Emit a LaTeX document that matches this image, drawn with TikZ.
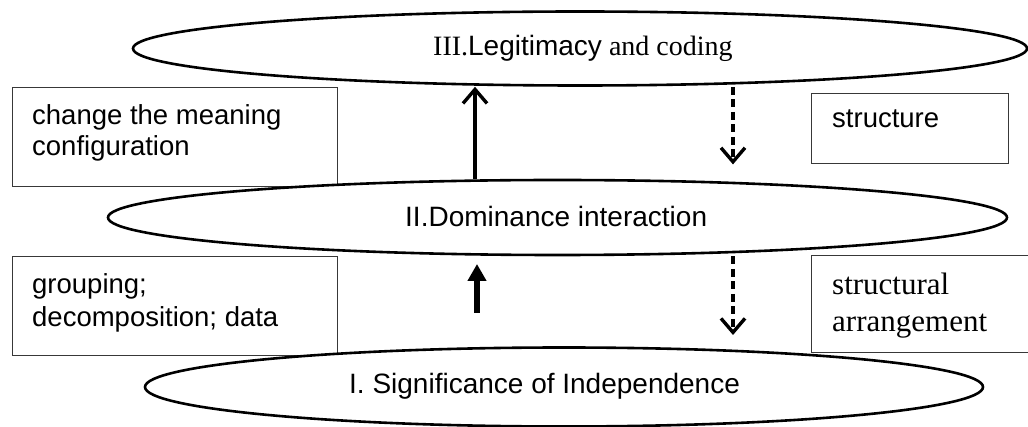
\documentclass[tikz,border=0pt]{standalone}
\usepackage{fontspec}
\setmainfont{Liberation Sans}
\newfontfamily\tnr{Liberation Serif}
\usetikzlibrary{shapes.geometric,arrows.meta}
\newcommand{\boxlines}[1]{\begin{tabular}[t]{@{}l@{}}#1\end{tabular}}
\begin{document}
\begin{tikzpicture}[x=1pt,y=-1pt,
  oval/.style={ellipse,draw,line width=2.6pt,fill=white,inner sep=0pt},
  textbox/.style={rectangle,draw=black!78,line width=1.4pt,inner sep=0pt,anchor=north west},
  arial/.style={anchor=base west,inner sep=0pt,font=\fontsize{27.5}{31}\selectfont},
  times/.style={anchor=base west,inner sep=0pt,font=\tnr\fontsize{31}{37}\selectfont},
  ovaltext/.style={anchor=base west,inner sep=0pt,font=\fontsize{28}{32}\selectfont},
  openarrow/.style={line width=3.4pt,-{Straight Barb[length=14pt,width=24pt,line width=3.4pt]}},
  dasharrow/.style={openarrow,dash pattern=on 8pt off 4.5pt},
  fatarrow/.style={line width=5.5pt,-{Triangle[length=17pt,width=18pt]}}
]
\useasboundingbox (0,0) rectangle (1028,427);

% boxes
\node[textbox,minimum width=325pt,minimum height=99pt] (b1) at (12,87) {};
\node[textbox,minimum width=197pt,minimum height=70pt] (b3) at (811,93) {};
\node[textbox,minimum width=325pt,minimum height=99pt] (b2) at (12,256) {};
\node[textbox,minimum width=225pt,minimum height=97pt] (b4) at (811,255) {};

\node[arial] (t1) at (32,125) {\boxlines{change the meaning\\configuration}};
\node[arial] (t3) at (832,128) {structure};
\node[arial,font=\fontsize{27.5}{33}\selectfont] (t2) at (32,294) {\boxlines{grouping;\\decomposition; data}};
\node[times] (t4) at (832,295) {\boxlines{structural\\arrangement}};

% ellipses
\node[oval,minimum width=894pt,minimum height=74pt] (top) at (580,48.5) {};
\node[oval,minimum width=899pt,minimum height=75pt] (mid) at (557.5,217.5) {};
\node[oval,minimum width=838pt,minimum height=79pt] (bot) at (564,387) {};

\node[ovaltext] (lt) at (433,56) {{\tnr\fontsize{28}{32}\selectfont III.}Legitimacy{\tnr\fontsize{28}{32}\selectfont\ and coding}};
\node[ovaltext] (lm) at (405,227) {II.Dominance interaction};
\node[ovaltext] (lb) at (349,393) {I. Significance of Independence};

% arrows
\coordinate (xa) at (475,0);
\coordinate (xb) at (733,0);
\coordinate (fs) at (477,313);
\coordinate (fe) at (477,264);
\coordinate (de) at (733,335);
\draw[openarrow] (mid.north -| xa) -- (top.south -| xa);
\draw[dasharrow] (top.south -| xb) -- (b3.south -| xb);
\draw[fatarrow] (fs) -- (fe);
\draw[dasharrow] (mid.south -| xb) -- (de);
\end{tikzpicture}
\end{document}
